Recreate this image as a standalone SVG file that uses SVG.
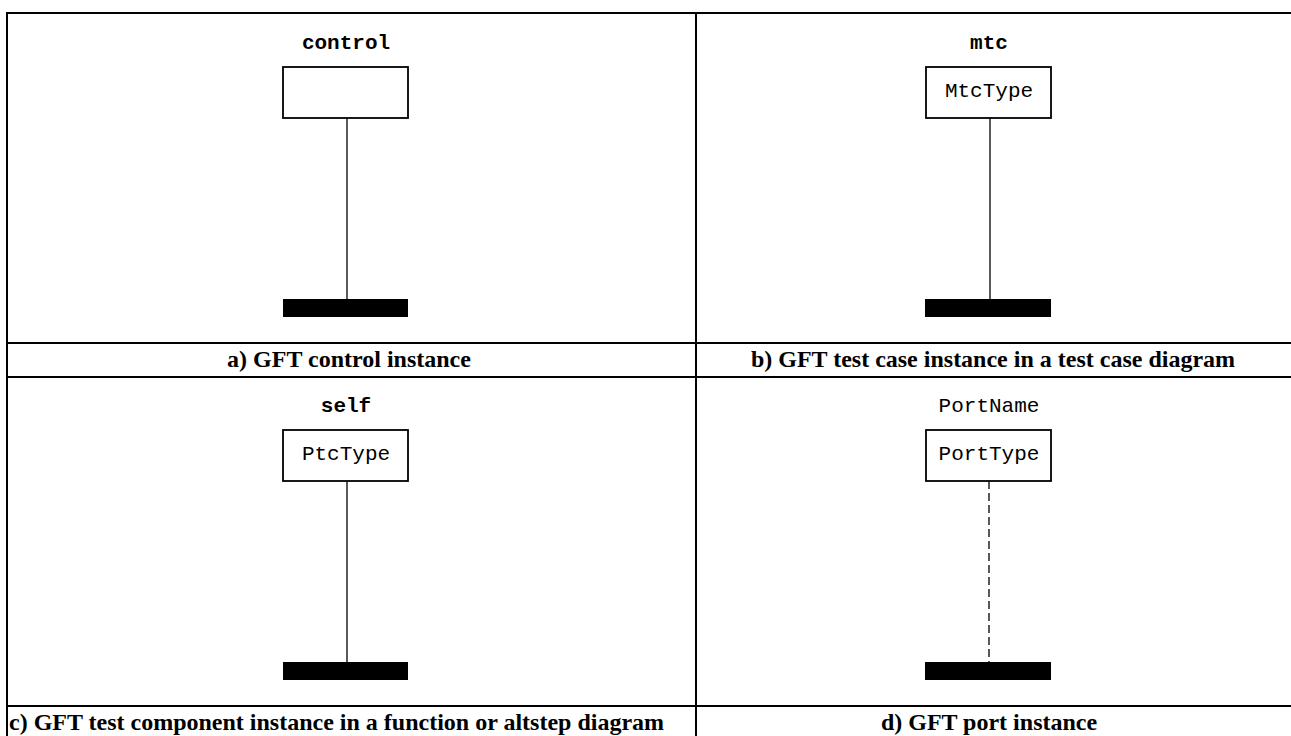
<svg xmlns="http://www.w3.org/2000/svg" width="1291" height="736" viewBox="0 0 1291 736">
  <style>
    .frame { stroke: #000; stroke-width: 2; fill: none; }
    .head { fill: #fff; stroke: #000; stroke-width: 1.8; }
    .life { stroke: #000; stroke-width: 1.3; fill: none; }
    .dash { stroke: #000; stroke-width: 1.3; fill: none; stroke-dasharray: 8 4; }
    .end { fill: #000; }
    .name { font-family: "Liberation Mono", "Courier New", monospace; font-size: 21px; font-weight: bold; text-anchor: middle; fill: #000; }
    .plain { font-family: "Liberation Mono", "Courier New", monospace; font-size: 21px; text-anchor: middle; fill: #000; }
    .cap { font-family: "Liberation Serif", "Times New Roman", serif; font-size: 24px; font-weight: bold; text-anchor: middle; fill: #000; }
    .cap.left { text-anchor: start; }
  </style>
  <rect width="1291" height="736" fill="#fff"/>

  <!-- table grid -->
  <g id="grid">
    <line class="frame" x1="7" y1="13" x2="1291" y2="13"/>
    <line class="frame" x1="7" y1="12" x2="7" y2="736"/>
    <line class="frame" x1="696" y1="13" x2="696" y2="736"/>
    <line class="frame" x1="7" y1="343" x2="1291" y2="343"/>
    <line class="frame" x1="7" y1="377" x2="1291" y2="377"/>
    <line class="frame" x1="7" y1="706" x2="1291" y2="706"/>
  </g>

  <!-- a) control instance -->
  <g id="control-instance">
    <text class="name" x="346" y="49">control</text>
    <rect class="head" x="283" y="67" width="125" height="51"/>
    <line class="life" x1="347" y1="118" x2="347" y2="299"/>
    <rect class="end" x="283" y="299" width="125" height="18"/>
  </g>

  <!-- b) mtc instance -->
  <g id="mtc-instance">
    <text class="name" x="989" y="49">mtc</text>
    <rect class="head" x="926" y="67" width="125" height="51"/>
    <text class="plain" x="989" y="97">MtcType</text>
    <line class="life" x1="990" y1="118" x2="990" y2="299"/>
    <rect class="end" x="925" y="299" width="126" height="18"/>
  </g>

  <!-- c) self instance -->
  <g id="self-instance">
    <text class="name" x="346" y="412">self</text>
    <rect class="head" x="283" y="430" width="125" height="51"/>
    <text class="plain" x="346" y="460">PtcType</text>
    <line class="life" x1="347" y1="481" x2="347" y2="662"/>
    <rect class="end" x="283" y="662" width="125" height="18"/>
  </g>

  <!-- d) port instance -->
  <g id="port-instance">
    <text class="plain" x="989" y="412">PortName</text>
    <rect class="head" x="926" y="430" width="125" height="51"/>
    <text class="plain" x="989" y="460">PortType</text>
    <line class="dash" x1="989" y1="481" x2="989" y2="662"/>
    <rect class="end" x="925" y="662" width="126" height="18"/>
  </g>

  <!-- captions -->
  <g id="captions">
    <text class="cap" x="349" y="367">a) GFT control instance</text>
    <text class="cap" x="993" y="367">b) GFT test case instance in a test case diagram</text>
    <text class="cap left" x="9" y="730">c) GFT test component instance in a function or altstep diagram</text>
    <text class="cap" x="989" y="730">d) GFT port instance</text>
  </g>
</svg>
